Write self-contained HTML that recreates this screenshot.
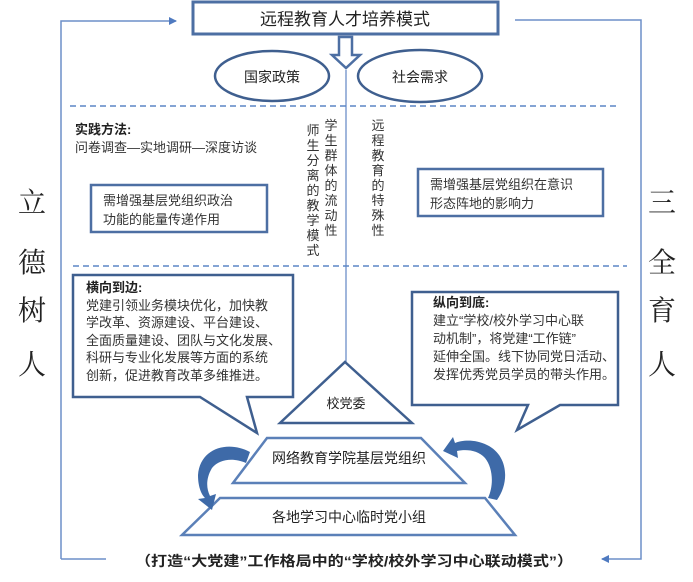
<!DOCTYPE html>
<html><head><meta charset="utf-8"><style>
html,body{margin:0;padding:0;background:#fff;}
svg{display:block;font-family:"Liberation Sans","Noto Sans CJK SC",sans-serif;}
</style></head><body>
<svg width="693" height="582" viewBox="0 0 693 582" xmlns="http://www.w3.org/2000/svg">
<defs>
<marker id="ah" markerWidth="8" markerHeight="8" refX="7" refY="4" orient="auto" markerUnits="userSpaceOnUse"><path d="M0,0 L8,4 L0,8 z" fill="#4f7ac0"/></marker>
</defs>
<polyline points="61,559 61,21 176,21" fill="none" stroke="#6d8fc8" stroke-width="1.5" marker-end="url(#ah)"/>
<polyline points="515,20 641,20 641,559 602,559" fill="none" stroke="#6d8fc8" stroke-width="1.5" marker-end="url(#ah)"/>
<line x1="61" y1="559" x2="106" y2="559" stroke="#6d8fc8" stroke-width="1.5"/>
<rect x="193" y="2" width="305" height="32" fill="#fff" stroke="#4d6fa3" stroke-width="3"/>
<text x="345" y="25" font-size="17" text-anchor="middle" fill="#222">远程教育人才培养模式</text>
<path d="M339,37 L352,37 L352,55 L360,55 L346,68 L332,55 L339,55 z" fill="#fff" stroke="#4d6fa3" stroke-width="2.5"/>
<ellipse cx="272" cy="76" rx="57" ry="25" fill="#fff" stroke="#3f5f8f" stroke-width="2.5"/>
<text x="272" y="82" font-size="14" text-anchor="middle" fill="#222">国家政策</text>
<ellipse cx="420" cy="76" rx="62" ry="26" fill="#fff" stroke="#3f5f8f" stroke-width="2.5"/>
<text x="420" y="82" font-size="14" text-anchor="middle" fill="#222">社会需求</text>
<line x1="346" y1="70" x2="346" y2="378" stroke="#6d8fc8" stroke-width="1.3" marker-end="url(#ah)"/>
<line x1="70" y1="106" x2="617" y2="106" stroke="#5b86c6" stroke-width="1.5" stroke-dasharray="6,4"/>
<line x1="73" y1="266" x2="627" y2="266" stroke="#5b86c6" stroke-width="1.5" stroke-dasharray="6,4"/>
<text x="75" y="134" font-size="13" font-weight="bold" fill="#222">实践方法:</text>
<text x="75" y="152" font-size="13" fill="#333">问卷调查—实地调研—深度访谈</text>
<rect x="91" y="185" width="176" height="47" fill="#fff" stroke="#4d6fa3" stroke-width="2.5"/>
<text x="103" y="205" font-size="13" fill="#333">需增强基层党组织政治</text>
<text x="103" y="224" font-size="13" fill="#333">功能的能量传递作用</text>
<rect x="418" y="169" width="185" height="47" fill="#fff" stroke="#4d6fa3" stroke-width="2.5"/>
<text x="430" y="189" font-size="13" fill="#333">需增强基层党组织在意识</text>
<text x="430" y="208" font-size="13" fill="#333">形态阵地的影响力</text>
<g font-size="13" fill="#333" text-anchor="middle">
<text x="313" y="0"><tspan x="313" y="135">师</tspan><tspan x="313" y="150">生</tspan><tspan x="313" y="165">分</tspan><tspan x="313" y="180">离</tspan><tspan x="313" y="195">的</tspan><tspan x="313" y="210">教</tspan><tspan x="313" y="225">学</tspan><tspan x="313" y="240">模</tspan><tspan x="313" y="255">式</tspan></text>
<text x="331" y="0"><tspan x="331" y="130">学</tspan><tspan x="331" y="145">生</tspan><tspan x="331" y="160">群</tspan><tspan x="331" y="175">体</tspan><tspan x="331" y="190">的</tspan><tspan x="331" y="205">流</tspan><tspan x="331" y="220">动</tspan><tspan x="331" y="235">性</tspan></text>
<text x="378" y="0"><tspan x="378" y="130">远</tspan><tspan x="378" y="145">程</tspan><tspan x="378" y="160">教</tspan><tspan x="378" y="175">育</tspan><tspan x="378" y="190">的</tspan><tspan x="378" y="205">特</tspan><tspan x="378" y="220">殊</tspan><tspan x="378" y="235">性</tspan></text>
</g>
<g font-size="28" fill="#222" text-anchor="middle" font-family="'Noto Serif CJK SC',serif">
<text x="32" y="212">立</text><text x="32" y="272">德</text><text x="32" y="320">树</text><text x="32" y="374">人</text>
<text x="662" y="212">三</text><text x="662" y="272">全</text><text x="662" y="320">育</text><text x="662" y="374">人</text>
</g>
<path d="M73,275 L293,275 L293,397 L247,397 L257,433 L200,397 L73,397 z" fill="#fff" stroke="#3f5f8f" stroke-width="2.5"/>
<g font-size="13" fill="#333">
<text x="86" y="292" font-weight="bold" fill="#222">横向到边:</text>
<text x="86" y="310">党建引领业务模块优化，加快教</text>
<text x="86" y="327">学改革、资源建设、平台建设、</text>
<text x="86" y="345">全面质量建设、团队与文化发展、</text>
<text x="86" y="362">科研与专业化发展等方面的系统</text>
<text x="86" y="380">创新，促进教育改革多维推进。</text>
</g>
<path d="M412,292 L618,292 L618,405 L560,405 L517,430 L528,405 L412,405 z" fill="#fff" stroke="#3f5f8f" stroke-width="2.5"/>
<g font-size="13" fill="#333">
<text x="433" y="307" font-weight="bold" fill="#222">纵向到底:</text>
<text x="433" y="325">建立“学校/校外学习中心联</text>
<text x="433" y="343">动机制”，将党建“工作链”</text>
<text x="433" y="361">延伸全国。线下协同党日活动、</text>
<text x="433" y="379">发挥优秀党员学员的带头作用。</text>
</g>
<path d="M345,362 L412,423 L280,423 z" fill="#fff" stroke="#3f5f8f" stroke-width="2.5"/>
<text x="346" y="408" font-size="13" text-anchor="middle" fill="#222">校党委</text>
<path d="M267,438 L421,438 L465,483 L233,483 z" fill="#fff" stroke="#5b80b8" stroke-width="2.5"/>
<text x="349" y="463" font-size="14" text-anchor="middle" fill="#222">网络教育学院基层党组织</text>
<path d="M220,498 L485,498 L515,535 L182,535 z" fill="#fff" stroke="#5b80b8" stroke-width="2.5"/>
<text x="349" y="522" font-size="14" text-anchor="middle" fill="#222">各地学习中心临时党小组</text>
<path d="M250,452 C228,440 200,448 198,475 C198,488 202,495 205,498 L198,499 L212,510 L216,494 L210,496 C206,488 206,478 212,468 C220,458 235,458 246,463 z" fill="#3e6aa8"/>
<path d="M497,500 C510,482 508,455 487,445 C475,439 462,440 455,443 L453,437 L443,451 L458,458 L457,451 C466,449 478,450 485,458 C493,468 494,485 488,498 z" fill="#3e6aa8"/>
<text x="135" y="566" font-size="14" font-weight="bold" fill="#222" textLength="438" lengthAdjust="spacingAndGlyphs">（打造“大党建”工作格局中的“学校/校外学习中心联动模式”）</text>
</svg>
</body></html>
